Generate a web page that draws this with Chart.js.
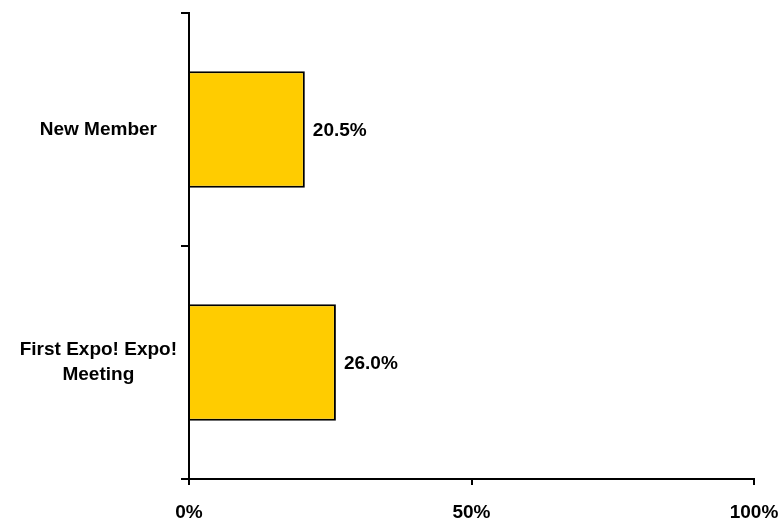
<!DOCTYPE html>
<html>
<head>
<meta charset="utf-8">
<script src="https://cdn.jsdelivr.net/npm/chart.js@4/dist/chart.umd.min.js"></script>
<style>
	body { margin: 0; background: #fff; }
	#box { width: 782px; height: 520px; }
</style>
</head>
<body>
<div id="box"><canvas id="grafico"></canvas></div>
<script>
// dados
const categorias = ['New Member', ['First Expo! Expo!', 'Meeting']];
const valores = [20.5, 26.0];
const ticksX = [0, 50, 100];

const fonte = { family: '"Liberation Sans", Arial, sans-serif', size: 19, weight: 'bold' };

// rotulos de valor ao lado das barras
const rotulosValor = {
	id: 'rotulosValor',
	afterDatasetsDraw(chart) {
		const ctx = chart.ctx;
		const meta = chart.getDatasetMeta(0);
		ctx.save();
		ctx.font = 'bold 19px "Liberation Sans", Arial, sans-serif';
		ctx.fillStyle = '#000';
		ctx.textBaseline = 'middle';
		ctx.textAlign = 'left';
		meta.data.forEach((barra, i) => {
			ctx.fillText(valores[i].toFixed(1) + '%', barra.x + 8, barra.y + 1);
		});
		ctx.restore();
	},
};

new Chart(document.getElementById('grafico'), {
	type: 'bar',
	data: {
		labels: categorias,
		datasets: [
			{
				data: valores,
				backgroundColor: '#FFCC00',
				borderColor: '#000',
				borderWidth: 2,
				borderSkipped: 'start',
				barPercentage: 0.5,
				categoryPercentage: 1,
			},
		],
	},
	options: {
		indexAxis: 'y',
		responsive: true,
		maintainAspectRatio: false,
		animation: false,
		layout: { padding: { top: 13, right: 28, left: 0, bottom: 0 } },
		plugins: {
			legend: { display: false },
			tooltip: { enabled: false },
		},
		scales: {
			x: {
				min: 0,
				max: 100,
				afterBuildTicks: (scale) => {
					scale.ticks = ticksX.map((v) => ({ value: v }));
				},
				afterFit: (scale) => {
					scale.height = 41;
					scale.paddingLeft = 0;
					scale.paddingRight = 0;
				},
				ticks: {
					color: '#000',
					font: fonte,
					padding: 16,
					maxRotation: 0,
					callback: (v) => v + '%',
				},
				grid: {
					drawOnChartArea: false,
					color: '#000',
					lineWidth: 2,
					tickLength: 6,
				},
				border: { display: true, color: '#000', width: 2 },
			},
			y: {
				z: 1,
				afterFit: (scale) => {
					scale.width = 189;
					scale.paddingTop = 0;
					scale.paddingBottom = 0;
				},
				ticks: {
					color: '#000',
					font: { ...fonte, lineHeight: 1.3 },
					padding: 4,
					crossAlign: 'center',
				},
				grid: {
					offset: true,
					drawOnChartArea: false,
					color: '#000',
					lineWidth: 2,
					tickLength: 8,
				},
				border: { display: true, color: '#000', width: 2 },
			},
		},
	},
	plugins: [rotulosValor],
});
</script>
</body>
</html>
